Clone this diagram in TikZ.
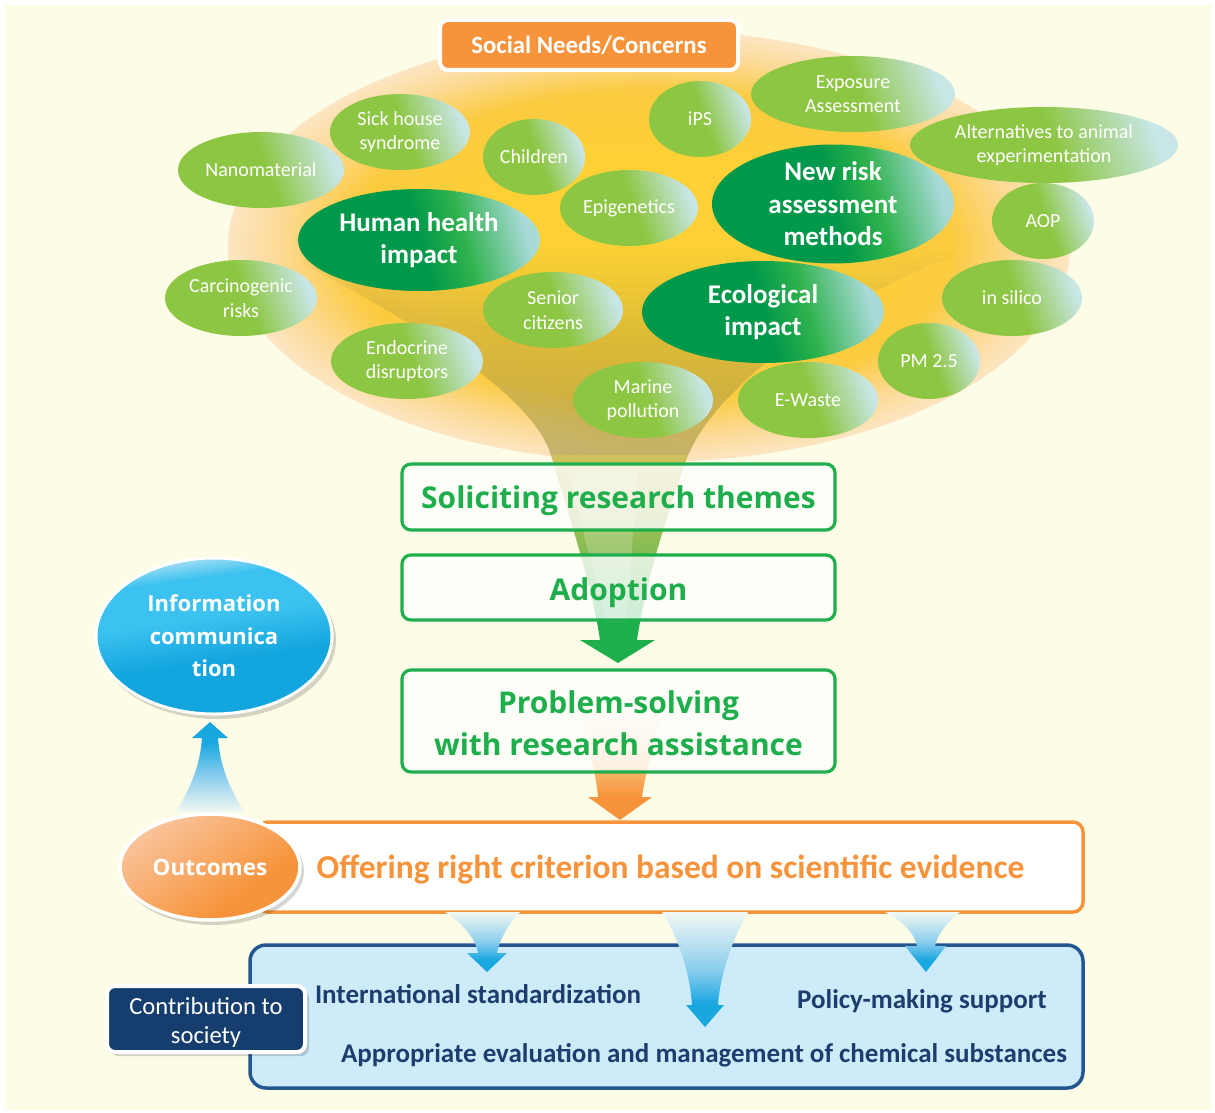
\documentclass[tikz,border=0pt]{standalone}
\usepackage{fontspec}
\setmainfont{Carlito}
\newfontfamily\osb{Open Sans}
\usetikzlibrary{shapes.geometric,calc}

\definecolor{cream}{HTML}{FDFCE7}
\definecolor{orng}{HTML}{F7943B}
\definecolor{gbox}{HTML}{1EAE4B}
\definecolor{lgA}{HTML}{8DC643}
\definecolor{lgB}{HTML}{C9E6E6}
\definecolor{dgA}{HTML}{00984A}
\definecolor{dgB}{HTML}{2EB24C}
\definecolor{dgC}{HTML}{A9DAD8}
\definecolor{gold1}{HTML}{FDD135}
\definecolor{gold2}{HTML}{FBCB40}
\definecolor{peach1}{HTML}{FCDA95}
\definecolor{peach2}{HTML}{FCE5C2}
\definecolor{funcol}{HTML}{B0A24A}
\definecolor{fol1}{HTML}{D0C25E}
\definecolor{fol2}{HTML}{B5C158}
\definecolor{fmid}{HTML}{7CBB52}
\definecolor{navy}{HTML}{1C3D6E}
\definecolor{navybox}{HTML}{153E6F}
\definecolor{lbox}{HTML}{CDEBF9}
\definecolor{lboxb}{HTML}{24578F}
\definecolor{blu}{HTML}{18A7DF}
\definecolor{bluL}{HTML}{F2F8F3}
\definecolor{bluM}{HTML}{8ACDEE}
\definecolor{infoA}{HTML}{12A5DE}
\definecolor{infoB}{HTML}{3CC2F0}
\definecolor{infoC}{HTML}{C2E6F5}
\definecolor{outA}{HTML}{F7943B}
\definecolor{outB}{HTML}{F9C49C}
\definecolor{orM}{HTML}{F9B367}
\definecolor{orL}{HTML}{FCE0BD}

\pgfdeclarehorizontalshading{lbub}{100bp}{color(0bp)=(lgA); color(25bp)=(lgA); color(52bp)=(lgA); color(75bp)=(lgB); color(100bp)=(lgB)}
\pgfdeclarehorizontalshading{dbub}{100bp}{color(0bp)=(dgA); color(25bp)=(dgA); color(50bp)=(dgA); color(60bp)=(dgB); color(75bp)=(dgC); color(100bp)=(dgC)}
\pgfdeclareradialshading{blobsh}{\pgfpoint{0bp}{0bp}}{color(0bp)=(gold1); color(10bp)=(gold1); color(18bp)=(gold2); color(22bp)=(peach1); color(25bp)=(peach2); color(50bp)=(peach2)}
\pgfdeclareverticalshading{funsh}{100bp}{color(0bp)=(gbox); color(36bp)=(gbox); color(50bp)=(fmid); color(64bp)=(fol2); color(75bp)=(fol1); color(100bp)=(fol1)}
\pgfdeclareverticalshading{orfun}{100bp}{color(0bp)=(orng); color(35bp)=(orng); color(46bp)=(orM); color(60bp)=(orL); color(75bp)=(cream); color(100bp)=(cream)}
\pgfdeclareverticalshading{upsh}{100bp}{color(0bp)=(bluL); color(25bp)=(bluL); color(45bp)=(bluM); color(64bp)=(blu); color(100bp)=(blu)}
\pgfdeclareverticalshading{dnsh}{100bp}{color(0bp)=(blu); color(35bp)=(blu); color(50bp)=(bluM); color(75bp)=(bluL); color(100bp)=(bluL)}
\pgfdeclareverticalshading{infosh}{100bp}{color(0bp)=(infoA); color(42bp)=(infoA); color(56bp)=(infoB); color(68bp)=(infoB); color(76bp)=(infoC); color(100bp)=(infoC)}
\pgfdeclareverticalshading{outsh}{100bp}{color(0bp)=(outA); color(35bp)=(outA); color(75bp)=(outB); color(100bp)=(outB)}

\newcommand{\dn}[2]{\raisebox{-#1}[\height][\depth]{#2}}

\tikzset{
  lb/.style={ellipse, shading=lbub, shading angle=20, text=white, align=center, inner sep=0pt,
    minimum height=76pt, font=\fontsize{20}{24.5}\selectfont},
  db/.style={ellipse, shading=dbub, shading angle=15, text=white, align=center, inner sep=0pt,
    minimum width=242pt, minimum height=102pt, font=\bfseries\fontsize{27}{32.5}\selectfont},
  gb/.style={draw=gbox, line width=3.2pt, rounded corners=9pt, fill=white, fill opacity=0.78,
    text opacity=1, text=gbox, align=center, inner sep=0pt, minimum width=433pt,
    font=\osb\bfseries\fontsize{30}{42}\selectfont},
  navytxt/.style={text=navy, inner sep=0pt, font=\bfseries\fontsize{27}{30}\selectfont},
  shadowfill/.style={fill=black, fill opacity=0.16},
}

\begin{document}
\begin{tikzpicture}[x=1pt,y=-1pt]
\useasboundingbox (0,0) rectangle (1215,1113);
\fill[white] (0,0) rectangle (1215,1113);
\fill[cream] (5,5) rectangle (1212,1110);

% blob
\path[shading=blobsh] (649,246) ellipse [x radius=421, y radius=216];

% funnel inside blob (stacked layers of growing coverage)
\foreach \i in {0,...,24}{
  \pgfmathsetmacro\ya{250+\i*8.4}
  \begin{scope}
    \clip (0,\ya) rectangle (1215,470);
    \fill[funcol, fill opacity=0.038] (300,262) .. controls (430,330) and (535,400) .. (551,455)
      -- (688,455) .. controls (720,380) and (840,300) .. (955,255)
      .. controls (720,215) and (520,215) .. (300,262) -- cycle;
  \end{scope}
}
% funnel below blob with green arrowhead
\path[shading=funsh] (551,455) .. controls (570,520) and (592,585) .. (600,640) -- (580,640)
  -- (618,663) -- (655,640) -- (637,640) .. controls (645,585) and (665,520) .. (688,455) -- cycle;
% highlight streak
\fill[white, fill opacity=0.2] (568,472) -- (638,472) -- (626,622) -- (606,622) -- cycle;

% light bubbles
\node[lb, minimum width=166pt] (nano) at (261,170) {Nanomaterial};
\node[lb, minimum width=140pt] (sick) at (400,132) {Sick house\\syndrome};
\node[lb, minimum width=102pt] (child) at (534,157) {Children};
\node[lb, minimum width=138pt] (epi) at (629,208) {Epigenetics};
\node[lb, minimum width=102pt] (ips) at (700,119) {iPS};
\node[lb, minimum width=204pt] (expo) at (853,94) {Exposure\\Assessment};
\node[lb, minimum width=268pt] (alt) at (1044,145) {Alternatives to animal\\experimentation};
\node[lb, minimum width=102pt] (aop) at (1043,221) {AOP};
\node[lb, minimum width=140pt] (silico) at (1012,298) {in silico};
\node[lb, minimum width=102pt] (pm) at (929,361) {PM 2.5};
\node[lb, minimum width=140pt] (ewaste) at (808,400) {E-Waste};
\node[lb, minimum width=140pt] (marine) at (643,400) {Marine\\pollution};
\node[lb, minimum width=152pt] (endo) at (407,361) {Endocrine\\disruptors};
\node[lb, minimum width=140pt] (senior) at (553,310) {Senior\\citizens};
\node[lb, minimum width=152pt] (carc) at (241,298) {Carcinogenic\\risks};

% dark bubbles
\node[db] (human) at (419,240) {Human health\\impact};
\node[db] (newrisk) at (833,204) {New risk\\assessment\\methods};
\node[db] (eco) at (763,312) {Ecological\\impact};

% Social needs header
\node[draw=white, line width=4pt, fill=orng, rounded corners=8pt, minimum width=298pt,
  minimum height=50pt, inner sep=0pt, text=white, font=\bfseries\fontsize{24.8}{28}\selectfont]
  (social) at (589,45) {Social Needs/Concerns};

% orange funnel (behind box 3)
\path[shading=orfun] (578,705) .. controls (590,750) and (596,775) .. (598,797) -- (588,797)
  -- (620,820) -- (652,797) -- (642,797) .. controls (645,775) and (652,750) .. (664,705) -- cycle;

% green boxes
\node[gb, minimum height=66pt] (solicit) at (618.5,497) {\dn{4pt}{Soliciting research themes}};
\node[gb, minimum height=65pt] (adopt) at (618.5,587.5) {\dn{5pt}{Adoption}};
\node[gb, minimum height=102pt] (prob) at (618.5,721) {\dn{2pt}{Problem-solving}\\\dn{2pt}{with research assistance}};

% blue box (contribution area)
\node[draw=lboxb, line width=3.5pt, fill=lbox, rounded corners=16pt, minimum width=833pt,
  minimum height=143pt, inner sep=0pt] (bbox) at (666.5,1016.5) {};

% offering box
\node[draw=orng, line width=3.5pt, fill=white, rounded corners=10pt, minimum width=825pt,
  minimum height=90pt, inner sep=0pt, text=orng, font=\bfseries\fontsize{33.5}{38}\selectfont]
  (offer) at (670.5,867) {\dn{3pt}{Offering right criterion based on scientific evidence}};

% blue up arrow (Outcomes -> Information communication)
\path[shading=upsh] (176,812) .. controls (192,785) and (200,765) .. (202,738) -- (192,738)
  -- (210,722) -- (228,738) -- (218,738) .. controls (220,765) and (228,785) .. (244,812) -- cycle;

% information ellipse
\fill[shadowfill] (217,640) ellipse [x radius=119, y radius=79];
\node[ellipse, draw=white, line width=3pt, shading=infosh, shading angle=8, minimum width=236pt,
  minimum height=156pt, inner sep=0pt, text=white, align=center,
  font=\osb\bfseries\fontsize{22}{32.5}\selectfont] (info) at (214,636) {Information\\communica\\tion};

% outcomes ellipse
\fill[shadowfill] (213,871) ellipse [x radius=91, y radius=54];
\node[ellipse, draw=white, line width=3.5pt, shading=outsh, shading angle=35, minimum width=180pt,
  minimum height=106pt, inner sep=0pt, text=white,
  font=\osb\bfseries\fontsize{22.5}{27}\selectfont] (outc) at (210,867) {Outcomes};

% blue down arrows
\path[shading=dnsh] (445,912) .. controls (465,925) and (476,940) .. (478,953) -- (467,953)
  -- (487,972) -- (507,953) -- (497,953) .. controls (499,940) and (508,925) .. (520,912) -- cycle;
\path[shading=dnsh] (662,912) .. controls (680,940) and (690,975) .. (692,1005) -- (686,1005)
  -- (705,1027) -- (724,1005) -- (718,1005) .. controls (720,975) and (732,940) .. (748,912) -- cycle;
\path[shading=dnsh] (885,912) .. controls (905,922) and (915,935) .. (917,946) -- (905,946)
  -- (926,972) -- (946,946) -- (935,946) .. controls (937,935) and (947,922) .. (960,912) -- cycle;

% texts in the blue box
\node[navytxt] (intl) at (478,994) {International standardization};
\node[navytxt] (policy) at (922,1001) {Policy-making support};
\node[navytxt] (approp) at (704,1055) {Appropriate evaluation and management of chemical substances};

% contribution label
\fill[shadowfill, rounded corners=8pt] (110,990) rectangle (309,1056);
\node[draw=white, line width=4pt, fill=navybox, rounded corners=8pt, minimum width=198pt,
  minimum height=66pt, inner sep=0pt, text=white, align=center,
  font=\fontsize{24.6}{29}\selectfont] (contrib) at (206,1019) {\dn{3pt}{Contribution to}\\\dn{3pt}{society}};
\end{tikzpicture}
\end{document}
